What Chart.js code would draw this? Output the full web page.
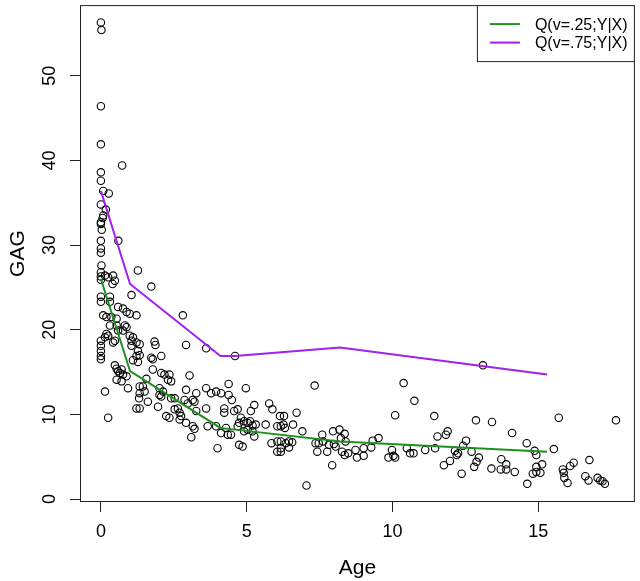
<!DOCTYPE html>
<html>
<head>
<meta charset="utf-8">
<script src="https://cdn.jsdelivr.net/npm/chart.js@4.4.0/dist/chart.umd.min.js"></script>
<style>
  html, body { margin: 0; padding: 0; background: #fff; }
</style>
</head>
<body>
<canvas id="chart" width="640" height="581"></canvas>
<script>
// Age / GAG points
const age = [
  0,0.02,0,0,0.73,0,0,0.08,0.27,0,0.17,0.08,0.06,0,0,0.03,0,0.6,0,0,
  0.02,0,0,0,0.14,0.25,0.42,0.48,0.40,1.27,1.73,1.05,0,0,0.31,0.31,0.59,0.76,0.88,0.99,
  1.22,0.08,0.19,0.36,0.54,0.31,0.54,0.59,0.82,0.76,0.88,2.81,0.19,0.14,0.25,0.42,0.48,0,0,0,
  0,0,0.99,1.10,1.05,1.05,1.22,1.33,1.27,1.33,1.22,1.84,1.87,2.07,1.73,1.78,2.92,3.61,4.6,
  0.48,0.54,0.59,0.65,0.71,0.76,0.88,0.54,0.71,0.93,0.14,1.10,1.27,1.78,2.07,2.18,2.35,2.30,2.41,3.04,
  1.56,1.33,1.44,1.33,1.31,1.50,2.01,2.13,2.01,2.07,2.41,1.61,1.33,1.22,1.96,2.24,2.35,2.53,2.64,2.70,
  2.75,2.70,2.87,2.98,3.15,3.21,3.27,2.92,3.61,3.61,3.78,3.95,3.27,2.92,3.15,3.21,3.10,3.66,3.95,0.25,4.0,2.53,
  4.38,4.97,4.12,4.38,4.49,4.23,4.23,4.57,4.69,5.26,5.14,4.80,4.74,4.69,4.29,4.12,4.35,4.46,4.91,5.03,
  5.11,5.20,5.31,4.91,5.03,5.2,5.26,4.74,4.86,5.65,5.77,5.88,6.14,6.28,6.05,6.17,6.26,6.31,6.59,6.71,
  6.91,5.85,6.05,6.17,6.34,6.45,6.05,6.17,6.17,6.45,6.56,7.33,7.05,7.36,7.47,7.42,7.59,7.62,7.82,7.99,
  8.05,7.96,8.18,8.23,7.76,7.93,8.36,8.39,8.27,8.36,8.48,8.73,8.78,9.01,9.01,9.32,9.52,9.27,9.98,10.03,
  10.09,9.86,10.09,10.38,10.75,10.49,10.6,10.72,
  13.1,11.43,12.86,13.41,15.7,17.66,11.89,11.83,11.54,12.52,14.1,14.6,15.53,16.75,11.12,11.46,12.14,12.25,12.2,12.42,
  12.71,12.96,12.88,12.8,12.37,11.76,11.97,13.39,13.73,13.71,13.9,13.9,14.19,14.62,14.87,14.93,14.93,14.81,14.93,15.07,
  15.13,15.84,15.87,15.89,16.0,16.09,16.21,16.61,16.72,17.03,17.12,17.2,17.28
];
const gag = [
  56.3,55.4,46.4,41.9,39.4,38.6,37.6,36.4,36.1,34.8,34.2,33.5,33.2,32.7,32.5,31.8,30.5,30.5,29.6,29.1,
  27.6,26.8,26.3,25.9,26.4,26.2,26.4,25.8,25.4,27.0,25.1,24.1,23.9,23.3,23.9,23.3,22.7,22.5,22.1,21.9,
  21.7,21.7,21.5,21.5,21.3,20.5,20.5,19.9,20.5,19.9,20.3,21.7,19.5,19.1,19.3,18.5,18.7,18.7,18.1,17.5,
  16.9,16.5,19.3,19.1,18.7,18.1,18.5,18.3,17.5,17.0,16.9,18.6,18.2,16.9,16.7,16.5,18.2,17.8,16.9,
  15.8,15.4,15.1,14.9,15.3,14.7,14.5,14.1,13.9,13.1,12.7,16.4,16.2,15.3,14.9,14.7,14.7,14.1,13.9,14.6,
  14.2,13.3,13.3,12.5,11.9,12.7,13.1,12.7,12.3,12.1,11.9,11.5,10.7,10.7,10.9,9.8,9.6,10.6,10.7,10.2,
  9.8,9.4,11.7,11.3,11.7,11.5,12.5,12.9,13.1,10.7,12.5,12.7,10.4,9.0,8.6,8.3,7.3,8.6,8.6,9.6,6.0,11.9,
  13.6,13.1,12.5,12.3,11.7,10.7,10.2,10.4,10.6,11.1,10.4,9.6,9.0,8.6,8.4,7.8,7.6,7.6,9.2,9.0,
  9.2,8.7,8.8,8.0,8.2,8.0,7.4,6.4,6.2,8.8,11.3,10.6,9.8,9.8,8.6,8.6,8.8,8.4,8.8,10.2,
  8.0,6.6,6.8,6.8,6.6,6.1,5.6,5.6,6.0,6.8,6.7,13.4,1.6,6.6,6.6,5.6,7.6,6.8,6.4,6.5,
  6.2,8.0,8.2,7.2,5.6,4.0,7.7,6.8,5.6,5.2,5.4,5.8,4.9,6.0,5.1,6.9,7.2,6.1,5.8,5.1,
  4.9,4.9,9.9,13.7,11.6,6.0,5.4,5.4,
  15.8,9.8,9.3,9.1,9.6,9.3,8.0,7.6,7.4,6.9,7.8,6.6,5.9,4.6,5.8,6.0,5.7,5.4,5.2,6.3,
  5.6,4.9,4.4,3.8,3.0,4.0,4.5,3.6,4.7,3.5,4.1,3.5,3.2,1.8,5.7,5.2,3.8,3.0,3.2,3.1,
  4.1,3.5,3.1,2.5,1.9,3.9,4.3,2.7,2.2,2.5,2.2,2.1,1.8
];

// quantile fits
const fitAge = [0, 1.0, 4.1, 4.6, 8.2, 15.3];
const q25 = [26.0, 15.1, 8.4, 8.2, 6.8, 5.6];
const q75 = [36.4, 25.4, 16.9, 16.9, 17.9, 14.7];

const xTicks = [0, 5, 10, 15];
const yTicks = [0, 10, 20, 30, 40, 50];
const fitLabels = ['Q(v=.25;Y|X)', 'Q(v=.75;Y|X)'];
const fitColors = ['#1f8f1f', '#a020f0'];

const FONT = '"Liberation Sans", Arial, Helvetica, sans-serif';
Chart.defaults.font.family = FONT;
Chart.defaults.color = '#000';

const toXY = (xs, ys) => xs.map((x, i) => ({ x: x, y: ys[i] }));

// box, rotated y labels and legend, drawn R style
const rFrame = {
  id: 'rFrame',
  afterDraw(chart) {
    const { ctx, chartArea: a, scales } = chart;
    ctx.save();
    ctx.strokeStyle = '#222';
    ctx.lineWidth = 1;
    ctx.strokeRect(a.left + 0.5, a.top + 0.5, a.right - a.left - 1, a.bottom - a.top - 1);

    ctx.fillStyle = '#000';
    ctx.font = '18px ' + FONT;
    ctx.textAlign = 'center';
    ctx.textBaseline = 'middle';
    yTicks.forEach(v => {
      const py = scales.y.getPixelForValue(v);
      ctx.save();
      ctx.translate(50, py);
      ctx.rotate(-Math.PI / 2);
      ctx.fillText(String(v), 0, 0);
      ctx.restore();
    });

    // legend top right
    const bw = 158, bh = 57;
    const bx = a.right - bw, by = a.top;
    ctx.fillStyle = '#fff';
    ctx.fillRect(bx, by, bw, bh);
    ctx.strokeStyle = '#222';
    ctx.strokeRect(bx + 0.5, by + 0.5, bw - 1, bh - 1);
    ctx.font = '16px ' + FONT;
    ctx.textAlign = 'left';
    fitLabels.forEach((lab, i) => {
      const ly = by + 19 + i * 18.5;
      ctx.strokeStyle = fitColors[i];
      ctx.lineWidth = 2;
      ctx.beginPath();
      ctx.moveTo(bx + 13, ly);
      ctx.lineTo(bx + 43, ly);
      ctx.stroke();
      ctx.fillStyle = '#000';
      ctx.fillText(lab, bx + 58, ly + 1);
    });
    ctx.restore();
  }
};

new Chart(document.getElementById('chart'), {
  type: 'scatter',
  data: {
    datasets: [
      {
        label: fitLabels[0],
        data: toXY(fitAge, q25),
        showLine: true,
        borderColor: fitColors[0],
        borderWidth: 2,
        pointRadius: 0,
        order: 1
      },
      {
        label: fitLabels[1],
        data: toXY(fitAge, q75),
        showLine: true,
        borderColor: fitColors[1],
        borderWidth: 2,
        pointRadius: 0,
        order: 1
      },
      {
        label: 'GAG',
        data: toXY(age, gag),
        pointStyle: 'circle',
        pointRadius: 3.7,
        pointBorderWidth: 1.1,
        borderColor: '#000',
        backgroundColor: 'rgba(0,0,0,0)',
        order: 2
      }
    ]
  },
  options: {
    responsive: false,
    animation: false,
    devicePixelRatio: 1,
    layout: { padding: { top: 2, right: 2, left: 0, bottom: 0 } },
    plugins: { legend: { display: false }, tooltip: { enabled: false } },
    scales: {
      x: {
        type: 'linear',
        min: -0.716,
        max: 18.31,
        afterBuildTicks: s => { s.ticks = xTicks.map(v => ({ value: v })); },
        afterFit: s => { s.height = 79; },
        grid: { drawOnChartArea: false, drawTicks: true, tickLength: 10, tickColor: '#222', lineWidth: 1 },
        border: { display: false },
        ticks: { font: { size: 18 }, color: '#000', padding: 9, maxRotation: 0 },
        title: { display: true, text: 'Age', font: { size: 21 }, color: '#000', padding: { top: 0, bottom: 0 } }
      },
      y: {
        type: 'linear',
        min: -0.35,
        max: 58.35,
        afterBuildTicks: s => { s.ticks = yTicks.map(v => ({ value: v })); },
        afterFit: s => { s.width = 80; },
        grid: { drawOnChartArea: false, drawTicks: true, tickLength: 10, tickColor: '#222', lineWidth: 1 },
        border: { display: false },
        ticks: { display: false },
        title: { display: true, text: 'GAG', font: { size: 21 }, color: '#000', padding: { top: 6, bottom: 0 } }
      }
    }
  },
  plugins: [rFrame]
});
</script>
</body>
</html>
